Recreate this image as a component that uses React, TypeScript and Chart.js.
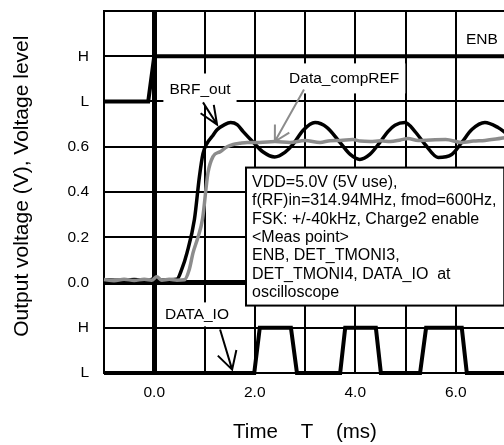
import React, { useEffect, useRef } from 'react';
import { Chart, registerables } from 'chart.js';

Chart.register(...registerables);

// ---- Data (time in ms, voltage in V; logic levels mapped onto the same axis) ----
const brfTime = [-1, -0.7, -0.4, -0.1, 0.0, 0.1, 0.3, 0.45, 0.55, 0.65, 0.8, 0.9, 0.97, 1.05, 1.15, 1.25, 1.4, 1.52, 1.65, 1.77, 1.97, 2.16, 2.4, 2.6, 2.76, 2.96, 3.2, 3.44, 3.7, 3.9, 4.09, 4.29, 4.49, 4.65, 4.79, 4.99, 5.19, 5.39, 5.65, 5.92, 6.12, 6.32, 6.58, 6.84, 7.0];
const brfValue = [0.012, 0.01, 0.013, 0.01, 0.018, 0.01, 0.012, 0.014, 0.06, 0.13, 0.28, 0.47, 0.57, 0.615, 0.645, 0.675, 0.698, 0.707, 0.698, 0.667, 0.62, 0.578, 0.555, 0.575, 0.61, 0.672, 0.707, 0.685, 0.618, 0.566, 0.544, 0.566, 0.619, 0.667, 0.695, 0.707, 0.667, 0.61, 0.553, 0.566, 0.619, 0.676, 0.707, 0.685, 0.66];

const refTime = [-1, -0.8, -0.6, -0.4, -0.2, -0.05, 0.05, 0.15, 0.3, 0.45, 0.6, 0.7, 0.77, 0.87, 0.96, 1.07, 1.17, 1.31, 1.45, 1.57, 1.7, 1.85, 2.1, 2.4, 2.7, 3.0, 3.3, 3.5, 3.7, 3.95, 4.1, 4.3, 4.5, 4.7, 4.9, 5.05, 5.25, 5.5, 5.8, 6.12, 6.35, 6.58, 6.8, 7.0];
const refValue = [0.013, 0.008, 0.014, 0.009, 0.014, 0.01, 0.025, 0.01, 0.014, 0.01, 0.012, 0.06, 0.13, 0.2, 0.28, 0.486, 0.557, 0.578, 0.6, 0.61, 0.615, 0.619, 0.619, 0.623, 0.619, 0.628, 0.619, 0.627, 0.628, 0.632, 0.625, 0.623, 0.626, 0.623, 0.63, 0.636, 0.628, 0.63, 0.632, 0.619, 0.625, 0.628, 0.634, 0.641];

const enbTime = [-1, -0.12, 0.0, 7.2];
const enbLevel = [0.8, 0.8, 1.0, 1.0];

const dataIoTime = [-1, 1.99, 2.1, 2.72, 2.84, 3.7, 3.8, 4.41, 4.51, 5.29, 5.41, 6.12, 6.22, 7.2];
const dataIoLevel = [-0.4, -0.4, -0.2, -0.2, -0.4, -0.4, -0.2, -0.2, -0.4, -0.4, -0.2, -0.2, -0.4, -0.4];

const yTickValues = [-0.4, -0.2, 0, 0.2, 0.4, 0.6, 0.8, 1.0, 1.2];
const yTickLabels = ['L', 'H', '0.0', '0.2', '0.4', '0.6', 'L', 'H', ''];
const xTickValues = [-1, 0, 1, 2, 3, 4, 5, 6, 7];
const xTickLabels = ['', '0.0', '', '2.0', '', '4.0', '', '6.0', ''];

const noteLines = [
  'VDD=5.0V (5V use),',
  'f(RF)in=314.94MHz, fmod=600Hz,',
  'FSK: +/-40kHz, Charge2 enable',
  '<Meas point>',
  'ENB, DET_TMONI3,',
  'DET_TMONI4, DATA_IO  at',
  'oscilloscope',
];

const labelTexts = ['BRF_out', 'Data_compREF', 'DATA_IO', 'ENB'];

// ---- Annotation placement (data units) ----
const labelAt = [
  { t: 0.91, v: 0.853, padY: 16, bg: true },
  { t: 3.78, v: 0.902, padY: 15, bg: true },
  { t: 0.85, v: -0.141, padY: 12, bg: true },
  { t: 6.52, v: 1.074, padY: 0, bg: false },
];
const arrows = [
  { t0: 0.97, v0: 0.796, t1: 1.25, v1: 0.698, color: '#000', len: 20, ang: 23 },
  { t0: 2.98, v0: 0.853, t1: 2.4, v1: 0.623, color: '#8c8c8c', len: 17, ang: 29 },
  { t0: 1.31, v0: -0.208, t1: 1.55, v1: -0.385, color: '#000', len: 20, ang: 29 },
];
const noteBox = { t0: 1.826, v0: 0.508, t1: 6.965, v1: -0.102 };

const FONT = "'Liberation Sans', Arial, sans-serif";

const pts = (xs: number[], ys: number[]) => xs.map((x, i) => ({ x, y: ys[i] }));
const near = (a: number, b: number) => Math.abs(a - b) < 1e-6;

const notesPlugin = {
  id: 'notes',
  afterDatasetsDraw(chart: any) {
    const { ctx } = chart;
    const xs = chart.scales.x;
    const ys = chart.scales.y;
    const px = (t: number) => xs.getPixelForValue(t);
    const py = (v: number) => ys.getPixelForValue(v);
    ctx.save();

    // curve labels with white backgrounds
    ctx.font = `15.5px ${FONT}`;
    ctx.textBaseline = 'middle';
    ctx.textAlign = 'center';
    labelTexts.forEach((txt, i) => {
      const a = labelAt[i];
      const cx = px(a.t);
      const cy = py(a.v);
      const w = ctx.measureText(txt).width;
      if (a.bg) {
        ctx.fillStyle = '#fff';
        ctx.fillRect(cx - w / 2 - 6, cy - a.padY, w + 12, a.padY * 2);
      }
      ctx.fillStyle = '#000';
      ctx.fillText(txt, cx, cy);
    });

    // arrows
    arrows.forEach((a) => {
      const x0 = px(a.t0), y0 = py(a.v0), x1 = px(a.t1), y1 = py(a.v1);
      const back = Math.atan2(y0 - y1, x0 - x1);
      const d = (a.ang * Math.PI) / 180;
      ctx.strokeStyle = a.color;
      ctx.lineWidth = 2;
      ctx.beginPath();
      ctx.moveTo(x0, y0);
      ctx.lineTo(x1, y1);
      ctx.moveTo(x1 + a.len * Math.cos(back - d), y1 + a.len * Math.sin(back - d));
      ctx.lineTo(x1, y1);
      ctx.lineTo(x1 + a.len * Math.cos(back + d), y1 + a.len * Math.sin(back + d));
      ctx.stroke();
    });

    // condition box
    const bx = px(noteBox.t0), by = py(noteBox.v0);
    const bw = px(noteBox.t1) - bx, bh = py(noteBox.v1) - by;
    ctx.fillStyle = '#fff';
    ctx.fillRect(bx, by, bw, bh);
    ctx.strokeStyle = '#000';
    ctx.lineWidth = 2;
    ctx.strokeRect(bx, by, bw, bh);
    ctx.font = `16px ${FONT}`;
    ctx.textAlign = 'left';
    ctx.fillStyle = '#000';
    noteLines.forEach((line, i) => {
      ctx.fillText(line, bx + 6, by + 15 + i * 18.33);
    });
    ctx.restore();
  },
};

export default function App() {
  const ref = useRef<HTMLCanvasElement>(null);

  useEffect(() => {
    if (!ref.current) return;
    const chart = new Chart(ref.current, {
      type: 'line',
      data: {
        datasets: [
          {
            label: 'Data_compREF',
            data: pts(refTime, refValue),
            borderColor: '#8c8c8c',
            borderWidth: 3.5,
            pointRadius: 0,
            cubicInterpolationMode: 'monotone',
            order: 0,
            clip: false,
          },
          {
            label: 'BRF_out',
            data: pts(brfTime, brfValue),
            borderColor: '#000',
            borderWidth: 3.5,
            pointRadius: 0,
            cubicInterpolationMode: 'monotone',
            order: 1,
            clip: false,
          },
          {
            label: 'ENB',
            data: pts(enbTime, enbLevel),
            borderColor: '#000',
            borderWidth: 4,
            pointRadius: 0,
            tension: 0,
            order: 2,
            clip: false,
          },
          {
            label: 'DATA_IO',
            data: pts(dataIoTime, dataIoLevel),
            borderColor: '#000',
            borderWidth: 4,
            pointRadius: 0,
            tension: 0,
            order: 3,
            clip: false,
          },
        ],
      },
      options: {
        animation: false,
        responsive: false,
        maintainAspectRatio: false,
        devicePixelRatio: 1,
        layout: { padding: { top: 11, right: 6, left: 0, bottom: 0 } },
        plugins: { legend: { display: false }, tooltip: { enabled: false } },
        scales: {
          x: {
            type: 'linear',
            min: -1,
            max: 7,
            afterFit: (s: any) => {
              s.height = 72;
              s.paddingLeft = 0;
              s.paddingRight = 0;
            },
            afterBuildTicks: (s: any) => { s.ticks = xTickValues.map((value) => ({ value })); },
            grid: {
              color: '#000',
              lineWidth: (c: any) => (c.tick && near(c.tick.value, 0) ? 5 : 2),
              drawTicks: false,
            },
            border: { display: true, color: '#000', width: 2 },
            ticks: {
              color: '#000',
              font: { family: FONT, size: 15.5 },
              padding: 10,
              maxRotation: 0,
              autoSkip: false,
              callback: (value: any) => {
                const i = xTickValues.findIndex((v) => near(v, Number(value)));
                return i >= 0 ? xTickLabels[i] : '';
              },
            },
            title: {
              display: true,
              text: 'Time    T    (ms)',
              color: '#000',
              font: { family: FONT, size: 20.5 },
              padding: { top: 0, bottom: 0 },
            },
          },
          y: {
            type: 'linear',
            min: -0.4,
            max: 1.2,
            afterFit: (s: any) => {
              s.width = 104;
              s.paddingTop = 0;
              s.paddingBottom = 0;
            },
            afterBuildTicks: (s: any) => { s.ticks = yTickValues.map((value) => ({ value })); },
            grid: {
              color: '#000',
              lineWidth: (c: any) => (c.tick && near(c.tick.value, 0) ? 5 : 2),
              drawTicks: false,
            },
            border: { display: true, color: '#000', width: 2 },
            ticks: {
              color: '#000',
              font: { family: FONT, size: 15.5 },
              padding: 15,
              autoSkip: false,
              callback: (value: any) => {
                const i = yTickValues.findIndex((v) => near(v, Number(value)));
                return i >= 0 ? yTickLabels[i] : '';
              },
            },
            title: {
              display: true,
              text: '  Output voltage (V), Voltage level',
              color: '#000',
              font: { family: FONT, size: 21 },
              padding: { top: 10, bottom: 0 },
            },
          },
        },
      },
      plugins: [notesPlugin],
    } as any);
    return () => chart.destroy();
  }, []);

  return (
    <div
      style={{
        position: 'fixed',
        left: 0,
        top: 0,
        width: 504,
        height: 445,
        overflow: 'hidden',
        background: '#fff',
      }}
    >
      <canvas ref={ref} width={512} height={445} style={{ display: 'block', width: 512, height: 445 }} />
    </div>
  );
}
